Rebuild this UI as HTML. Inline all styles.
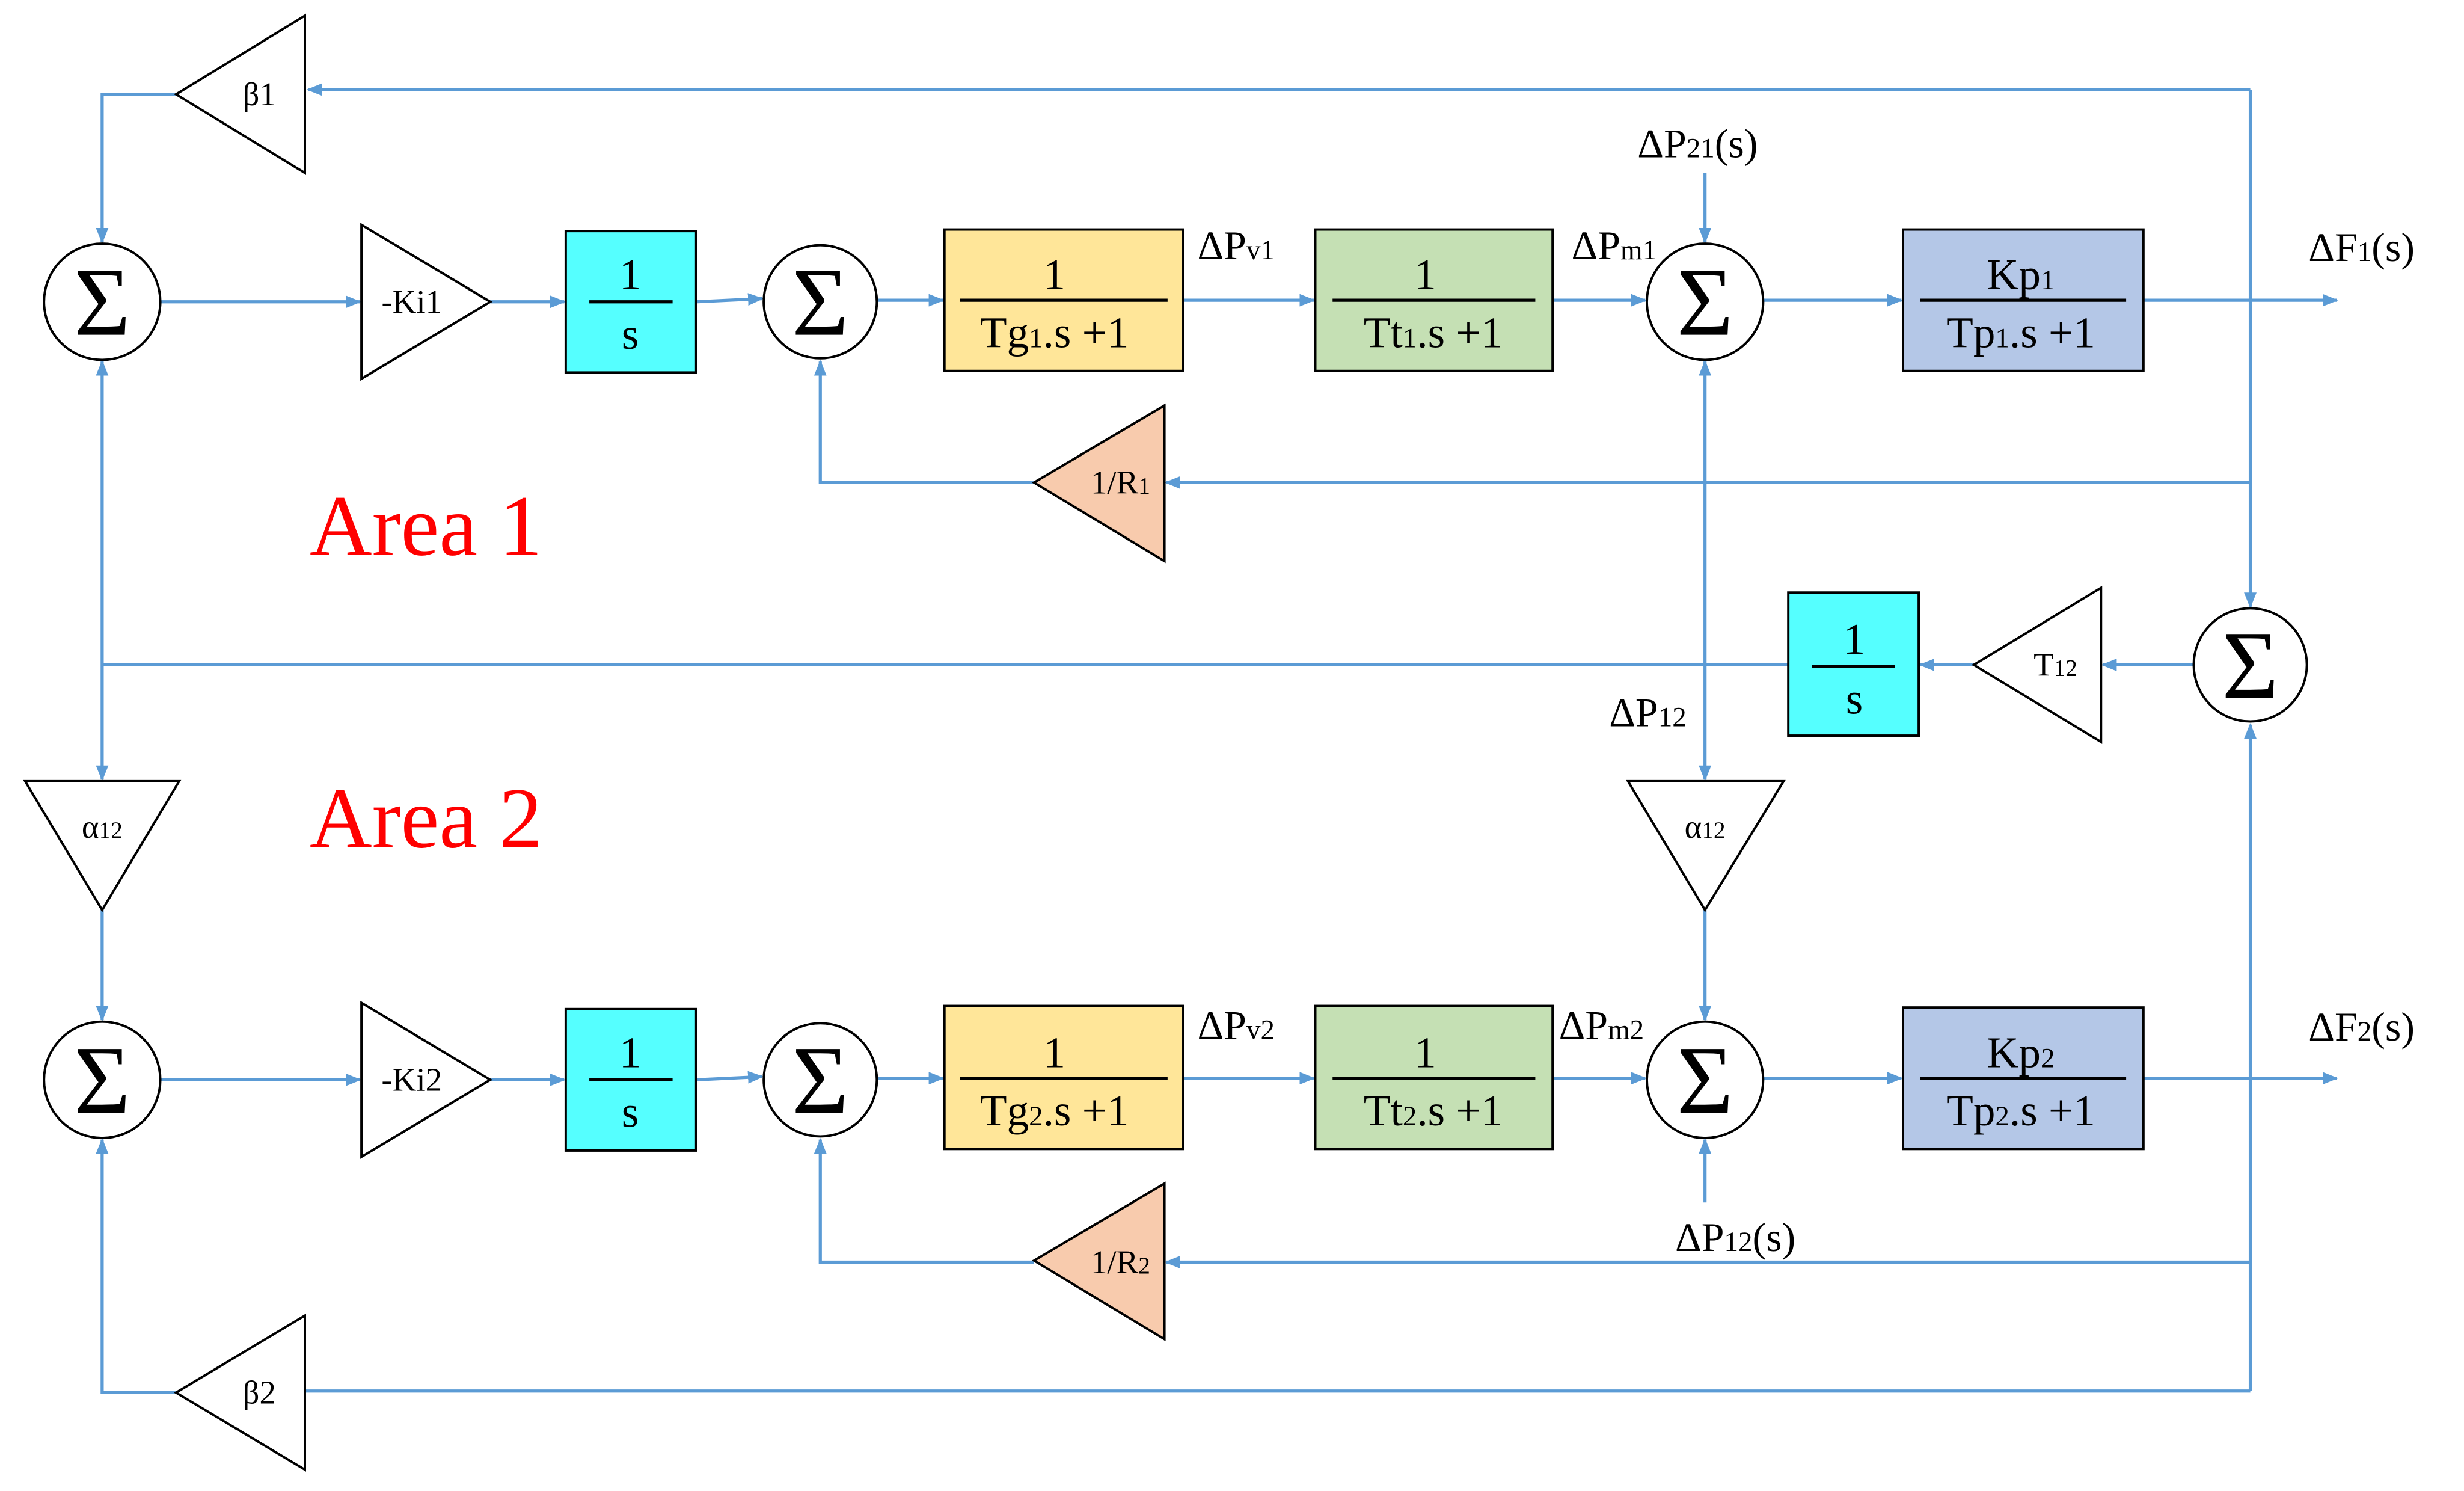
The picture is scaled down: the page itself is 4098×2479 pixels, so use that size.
<!DOCTYPE html>
<html><head><meta charset="utf-8"><style>
html,body{margin:0;padding:0;background:#fff;}
svg{display:block;}
text{font-family:"Liberation Serif",serif;fill:#000;}
</style></head><body>
<svg width="4098" height="2479" viewBox="0 0 1568 948.6" preserveAspectRatio="none" xmlns="http://www.w3.org/2000/svg">
<defs>
<marker id="a" markerWidth="10" markerHeight="8" refX="9" refY="4" orient="auto" markerUnits="userSpaceOnUse"><path d="M0,0 L10,4 L0,8 z" fill="#5b9bd5"/></marker>
</defs>
<g stroke="#5b9bd5" stroke-width="2" fill="none">
<line x1="1432" y1="57" x2="196" y2="57" marker-end="url(#a)"/>
<polyline points="112,60 65,60 65,154" marker-end="url(#a)"/>
<line x1="1432" y1="57" x2="1432" y2="386" marker-end="url(#a)"/>
<line x1="102" y1="192" x2="229" y2="192" marker-end="url(#a)"/>
<line x1="312" y1="192" x2="359" y2="192" marker-end="url(#a)"/>
<line x1="443" y1="192" x2="485" y2="190" marker-end="url(#a)"/>
<line x1="558" y1="191" x2="600" y2="191" marker-end="url(#a)"/>
<line x1="753" y1="191" x2="836" y2="191" marker-end="url(#a)"/>
<line x1="988" y1="191" x2="1047" y2="191" marker-end="url(#a)"/>
<line x1="1122" y1="191" x2="1210" y2="191" marker-end="url(#a)"/>
<line x1="1364" y1="191" x2="1487" y2="191" marker-end="url(#a)"/>
<line x1="1085" y1="110" x2="1085" y2="154" marker-end="url(#a)"/>
<line x1="1432" y1="307" x2="742" y2="307" marker-end="url(#a)"/>
<polyline points="658,307 522,307 522,230" marker-end="url(#a)"/>
<line x1="1396" y1="423" x2="1338" y2="423" marker-end="url(#a)"/>
<line x1="1256" y1="423" x2="1222" y2="423" marker-end="url(#a)"/>
<line x1="1138" y1="423" x2="65" y2="423"/>
<line x1="65" y1="423" x2="65" y2="230" marker-end="url(#a)"/>
<line x1="65" y1="423" x2="65" y2="496" marker-end="url(#a)"/>
<line x1="65" y1="579" x2="65" y2="649" marker-end="url(#a)"/>
<line x1="1085" y1="423" x2="1085" y2="230" marker-end="url(#a)"/>
<line x1="1085" y1="423" x2="1085" y2="496" marker-end="url(#a)"/>
<line x1="1085" y1="579" x2="1085" y2="649" marker-end="url(#a)"/>
<line x1="1432" y1="885" x2="1432" y2="461" marker-end="url(#a)"/>
<line x1="102" y1="687" x2="229" y2="687" marker-end="url(#a)"/>
<line x1="312" y1="687" x2="359" y2="687" marker-end="url(#a)"/>
<line x1="443" y1="687" x2="485" y2="685" marker-end="url(#a)"/>
<line x1="558" y1="686" x2="600" y2="686" marker-end="url(#a)"/>
<line x1="753" y1="686" x2="836" y2="686" marker-end="url(#a)"/>
<line x1="988" y1="686" x2="1047" y2="686" marker-end="url(#a)"/>
<line x1="1122" y1="686" x2="1210" y2="686" marker-end="url(#a)"/>
<line x1="1364" y1="686" x2="1487" y2="686" marker-end="url(#a)"/>
<line x1="1085" y1="765" x2="1085" y2="725" marker-end="url(#a)"/>
<line x1="1432" y1="803" x2="742" y2="803" marker-end="url(#a)"/>
<polyline points="658,803 522,803 522,725" marker-end="url(#a)"/>
<line x1="1432" y1="885" x2="194" y2="885"/>
<polyline points="112,886 65,886 65,725" marker-end="url(#a)"/>
</g>
<g stroke="#000" stroke-width="1.5">
<polygon points="112,60 194,10 194,110" fill="#fff"/>
<polygon points="112,886 194,837 194,935" fill="#fff"/>
<polygon points="230,143 312,192 230,241" fill="#fff"/>
<polygon points="230,638 312,687 230,736" fill="#fff"/>
<polygon points="658,307 741,258 741,357" fill="#f8cbad"/>
<polygon points="658,802 741,753 741,852" fill="#f8cbad"/>
<polygon points="1256,423 1337,374 1337,472" fill="#fff"/>
<polygon points="16,497 114,497 65,579" fill="#fff"/>
<polygon points="1036,497 1135,497 1085,579" fill="#fff"/>
<rect x="360" y="147" width="83" height="90" fill="#5ff"/>
<rect x="360" y="642" width="83" height="90" fill="#5ff"/>
<rect x="1138" y="377" width="83" height="91" fill="#5ff"/>
<rect x="601" y="146" width="152" height="90" fill="#ffe699"/>
<rect x="601" y="640" width="152" height="91" fill="#ffe699"/>
<rect x="837" y="146" width="151" height="90" fill="#c5e0b4"/>
<rect x="837" y="640" width="151" height="91" fill="#c5e0b4"/>
<rect x="1211" y="146" width="153" height="90" fill="#b4c7e7"/>
<rect x="1211" y="641" width="153" height="90" fill="#b4c7e7"/>
<g fill="#fff">
<circle cx="65" cy="192" r="37"/><circle cx="522" cy="192" r="36"/><circle cx="1085" cy="192" r="37"/>
<circle cx="1432" cy="423" r="36"/>
<circle cx="65" cy="687" r="37"/><circle cx="522" cy="687" r="36"/><circle cx="1085" cy="687" r="37"/>
</g>
</g>
<g font-size="62" text-anchor="middle">
<text x="65" y="213">Σ</text><text x="522" y="213">Σ</text><text x="1085" y="213">Σ</text>
<text x="1432" y="444">Σ</text>
<text x="65" y="708">Σ</text><text x="522" y="708">Σ</text><text x="1085" y="708">Σ</text>
</g>
<g stroke="#000" stroke-width="2">
<line x1="375" y1="192" x2="428" y2="192"/><line x1="375" y1="687" x2="428" y2="687"/><line x1="1153" y1="424" x2="1206" y2="424"/>
<line x1="611" y1="191" x2="743" y2="191"/><line x1="611" y1="686" x2="743" y2="686"/>
<line x1="848" y1="191" x2="977" y2="191"/><line x1="848" y1="686" x2="977" y2="686"/>
<line x1="1222" y1="191" x2="1353" y2="191"/><line x1="1222" y1="686" x2="1353" y2="686"/>
</g>
<g font-size="28" text-anchor="middle">
<text x="401" y="184">1</text><text x="401" y="222">s</text>
<text x="401" y="679">1</text><text x="401" y="717">s</text>
<text x="1180" y="416">1</text><text x="1180" y="454">s</text>
<text x="671" y="184">1</text><text x="671" y="221">Tg<tspan font-size="18">1</tspan>.s +1</text>
<text x="671" y="679">1</text><text x="671" y="716">Tg<tspan font-size="18">2</tspan>.s +1</text>
<text x="907" y="184">1</text><text x="912" y="221">Tt<tspan font-size="18">1</tspan>.s +1</text>
<text x="907" y="679">1</text><text x="912" y="716">Tt<tspan font-size="18">2</tspan>.s +1</text>
<text x="1286" y="184">Kp<tspan font-size="18">1</tspan></text><text x="1286" y="221">Tp<tspan font-size="18">1</tspan>.s +1</text>
<text x="1286" y="679">Kp<tspan font-size="18">2</tspan></text><text x="1286" y="716">Tp<tspan font-size="18">2</tspan>.s +1</text>
</g>
<g font-size="21" text-anchor="middle">
<text x="165" y="67">β1</text><text x="165" y="893">β2</text>
<text x="262" y="199">-Ki1</text><text x="262" y="694">-Ki2</text>
<text x="713" y="314">1/R<tspan font-size="15">1</tspan></text>
<text x="713" y="810">1/R<tspan font-size="15">2</tspan></text>
<text x="1308" y="430">T<tspan font-size="15">12</tspan></text>
<text x="65" y="533">α<tspan font-size="15">12</tspan></text>
<text x="1085" y="533">α<tspan font-size="15">12</tspan></text>
</g>
<g font-size="26">
<text x="762" y="165">ΔP<tspan font-size="18">v1</tspan></text>
<text x="762" y="661">ΔP<tspan font-size="18">v2</tspan></text>
<text x="1000" y="165">ΔP<tspan font-size="18">m1</tspan></text>
<text x="992" y="661">ΔP<tspan font-size="18">m2</tspan></text>
<text x="1042" y="100">ΔP<tspan font-size="18">21</tspan>(s)</text>
<text x="1066" y="796">ΔP<tspan font-size="18">12</tspan>(s)</text>
<text x="1024" y="462">ΔP<tspan font-size="18">12</tspan></text>
<text x="1469" y="166">ΔF<tspan font-size="18">1</tspan>(s)</text>
<text x="1469" y="662">ΔF<tspan font-size="18">2</tspan>(s)</text>
</g>
<text x="197" y="353" font-size="55" style="fill:#f00">Area 1</text>
<text x="197" y="539" font-size="55" style="fill:#f00">Area 2</text>
</svg>
</body></html>
